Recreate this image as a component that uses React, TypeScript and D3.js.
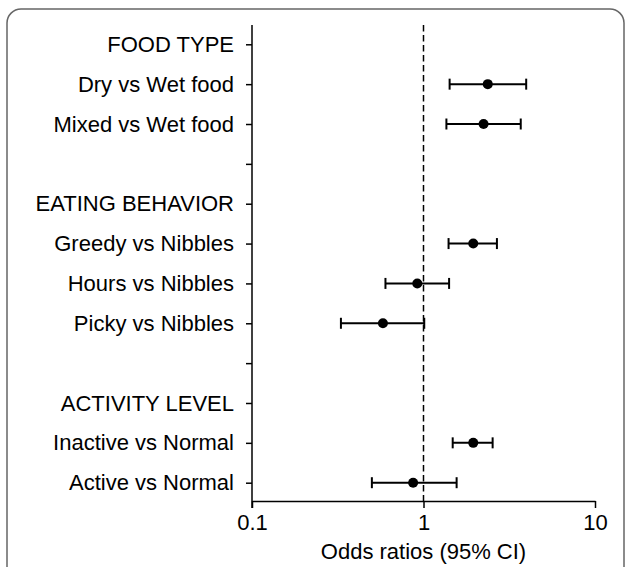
import React, { useEffect, useRef } from "react";
import * as d3 from "d3";

// row labels top to bottom; headers and spacer rows have no estimate
const labels = [
  "FOOD TYPE",
  "Dry vs Wet food",
  "Mixed vs Wet food",
  "",
  "EATING BEHAVIOR",
  "Greedy vs Nibbles",
  "Hours vs Nibbles",
  "Picky vs Nibbles",
  "",
  "ACTIVITY LEVEL",
  "Inactive vs Normal",
  "Active vs Normal",
];
const oddsRatio = [null, 2.37, 2.24, null, null, 1.95, 0.92, 0.58, null, null, 1.95, 0.87];
const lowerCI = [null, 1.42, 1.36, null, null, 1.4, 0.6, 0.33, null, null, 1.48, 0.5];
const upperCI = [null, 3.97, 3.69, null, null, 2.68, 1.41, 1.01, null, null, 2.53, 1.56];
const xTicks = [0.1, 1, 10];

const W = 626;
const H = 567;
const FONT = "'Liberation Sans', Arial, Helvetica, sans-serif";
const FS = 22;

const App: React.FC = () => {
  const svgRef = useRef<SVGSVGElement>(null);

  useEffect(() => {
    if (!svgRef.current) return;
    const svg = d3.select(svgRef.current);
    svg.selectAll("*").remove();

    // frame
    svg.append("rect")
      .attr("x", 7).attr("y", 9)
      .attr("width", 617).attr("height", 600)
      .attr("rx", 14)
      .attr("fill", "none")
      .attr("stroke", "#666")
      .attr("stroke-width", 1.5);

    const x = d3.scaleLog().domain([0.1, 10]).range([252, 595]);
    const rows = labels.map((_, i) => i);
    const y = d3.scalePoint<number>().domain(rows).range([44.3, 482.7]);
    const axisY = 501;

    // y axis
    const yAxis = svg.append("g")
      .attr("transform", `translate(${x(0.1)},0)`)
      .call(
        d3.axisLeft(y)
          .tickSize(6)
          .tickPadding(12)
          .tickFormat((i) => labels[i as number])
      );
    yAxis.select(".domain").remove();
    yAxis.selectAll("line").attr("stroke", "#000").attr("stroke-width", 1.5);
    yAxis.selectAll("text")
      .attr("font-family", FONT)
      .attr("font-size", FS)
      .attr("fill", "#000");

    svg.append("line")
      .attr("x1", x(0.1)).attr("x2", x(0.1))
      .attr("y1", 25).attr("y2", axisY + 7)
      .attr("stroke", "#000")
      .attr("stroke-width", 1.5);

    // x axis
    const xAxis = svg.append("g")
      .attr("transform", `translate(0,${axisY})`)
      .call(
        d3.axisBottom(x)
          .tickValues(xTicks)
          .tickSize(7)
          .tickSizeOuter(0)
          .tickPadding(6)
          .tickFormat((d) => String(d))
      );
    xAxis.select(".domain").attr("stroke", "#000").attr("stroke-width", 1.5);
    xAxis.selectAll("line").attr("stroke", "#000").attr("stroke-width", 1.5);
    xAxis.selectAll("text")
      .attr("font-family", FONT)
      .attr("font-size", FS)
      .attr("fill", "#000");

    svg.append("text")
      .attr("x", (x(0.1) + x(10)) / 2)
      .attr("y", 559)
      .attr("text-anchor", "middle")
      .attr("font-family", FONT)
      .attr("font-size", FS)
      .attr("fill", "#000")
      .text("Odds ratios (95% CI)");

    // reference line at OR = 1
    svg.append("line")
      .attr("x1", x(1)).attr("x2", x(1))
      .attr("y1", 25).attr("y2", axisY)
      .attr("stroke", "#000")
      .attr("stroke-width", 1.5)
      .attr("stroke-dasharray", "6.5,3.5");

    const pts = rows.filter((i) => oddsRatio[i] != null);
    const g = svg.append("g");

    g.selectAll("line.ci")
      .data(pts)
      .join("line")
      .attr("class", "ci")
      .attr("x1", (i) => x(lowerCI[i] as number))
      .attr("x2", (i) => x(upperCI[i] as number))
      .attr("y1", (i) => y(i)!)
      .attr("y2", (i) => y(i)!)
      .attr("stroke", "#000")
      .attr("stroke-width", 2);

    [lowerCI, upperCI].forEach((arr) => {
      g.append("g")
        .selectAll("line")
        .data(pts)
        .join("line")
        .attr("x1", (i) => x(arr[i] as number))
        .attr("x2", (i) => x(arr[i] as number))
        .attr("y1", (i) => y(i)! - 5.5)
        .attr("y2", (i) => y(i)! + 5.5)
        .attr("stroke", "#000")
        .attr("stroke-width", 2);
    });

    g.selectAll("circle")
      .data(pts)
      .join("circle")
      .attr("cx", (i) => x(oddsRatio[i] as number))
      .attr("cy", (i) => y(i)!)
      .attr("r", 5)
      .attr("fill", "#000");
  }, []);

  return (
    <svg
      ref={svgRef}
      width={W}
      height={H}
      style={{ position: "absolute", left: 0, top: 0, background: "#fff" }}
    />
  );
};

export default App;
